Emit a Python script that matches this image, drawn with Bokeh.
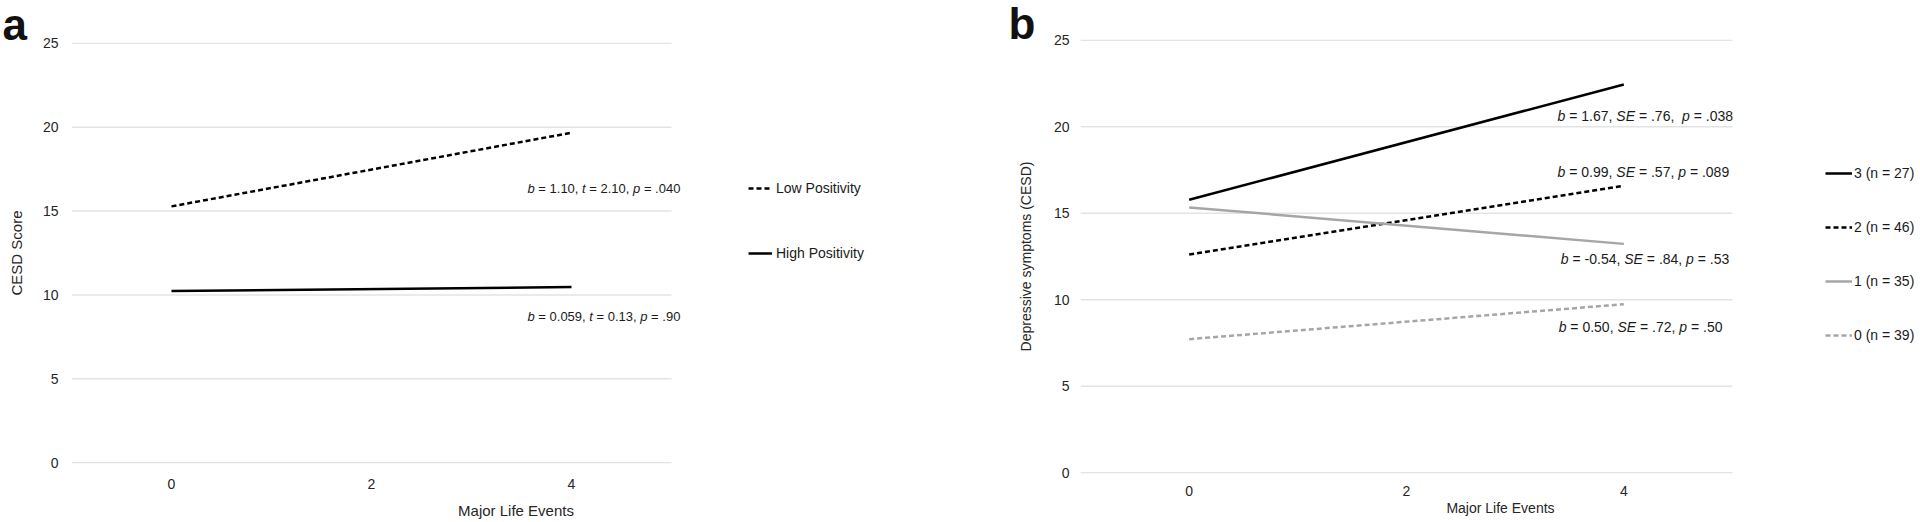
from bokeh.plotting import figure
from bokeh.models import Range1d, FixedTicker, Label, Legend, LegendItem
from bokeh.layouts import row
from bokeh.embed import file_html
from bokeh.resources import INLINE

# ---------------- data ----------------
events = [0, 4]
x_ticks = [0, 2, 4]
y_ticks = [0, 5, 10, 15, 20, 25]

# panel a
low_positivity = [15.28, 19.67]
high_positivity = [10.23, 10.47]
a_names = ["Low Positivity", "High Positivity"]
a_stats = [
    [("b", True), (" = 1.10, ", False), ("t", True), (" = 2.10, ", False), ("p", True), (" = .040", False)],
    [("b", True), (" = 0.059, ", False), ("t", True), (" = 0.13, ", False), ("p", True), (" = .90", False)],
]

# panel b
group3 = [15.78, 22.45]
group2 = [12.62, 16.59]
group1 = [15.34, 13.23]
group0 = [7.72, 9.74]
b_names = ["3 (n = 27)", "2 (n = 46)", "1 (n = 35)", "0 (n = 39)"]
b_stats = [
    [("b", True), (" = 1.67, ", False), ("SE", True), (" = .76,  ", False), ("p", True), (" = .038", False)],
    [("b", True), (" = 0.99, ", False), ("SE", True), (" = .57, ", False), ("p", True), (" = .089", False)],
    [("b", True), (" = -0.54, ", False), ("SE", True), (" = .84, ", False), ("p", True), (" = .53", False)],
    [("b", True), (" = 0.50, ", False), ("SE", True), (" = .72, ", False), ("p", True), (" = .50", False)],
]

# annotation anchor positions (data coords of the text start / middle)
a_stat_pos = [(3.56, 16.33), (3.56, 8.73)]
b_stat_pos = [(3.39, 20.62), (3.39, 17.40), (3.42, 12.33), (3.40, 8.41)]

FONT = "Liberation Sans"
BLACK = "#000000"
GRAY = "#a6a6a6"
DASH = "5 3"
TXT = "#1a1a1a"
X_MIN, X_MAX = -1, 5      # extent of the plotted area (gridlines)
Y_MIN, Y_MAX = 0, 25

# Arial / Liberation Sans advance widths (per 1000 em)
W = {c: 556 for c in "0123456789"}
W.update({" ": 278, ".": 278, ",": 278, "=": 584, "-": 333, "b": 556, "t": 278,
          "p": 556, "S": 667, "E": 667})


def text_width(s, size):
    return sum(W.get(ch, 556) for ch in s) * size / 1000.0


def add_rich_label(p, x, y, parts, size):
    off = 0.0
    for txt, ital in parts:
        core = txt.strip(" ")
        lead = len(txt) - len(txt.lstrip(" "))
        trail = len(txt) - len(txt.rstrip(" "))
        off += text_width(" " * lead, size)
        p.add_layout(Label(x=x, y=y, x_offset=off, text=core, text_font=FONT,
                           text_font_size=f"{size}px",
                           text_font_style="italic" if ital else "normal",
                           text_color=TXT, text_baseline="middle", text_align="left"))
        off += text_width(core, size) + text_width(" " * trail, size)


def base_fig(width, height, bl, bt, bb, x_end, ylabel, tick_size, lab_size,
             y_std, ylab_std, x_std, xlab_std, letter, letter_offset, letter_standoff):
    p = figure(width=width, height=height, output_backend="svg", toolbar_location=None,
               x_range=Range1d(X_MIN, x_end), y_range=Range1d(Y_MIN - 0.05, Y_MAX + 0.05),
               min_border_left=bl, min_border_right=0, min_border_top=bt, min_border_bottom=bb,
               title=letter, frame_align=False)
    p.title.align = "left"
    p.title.vertical_align = "middle"
    p.title.offset = letter_offset
    p.title.standoff = letter_standoff
    p.title.text_font = FONT
    p.title.text_font_size = "44px"
    p.title.text_font_style = "bold"
    p.title.text_color = "#111111"
    p.outline_line_color = None
    p.background_fill_color = "white"
    p.border_fill_color = "white"
    p.grid.grid_line_color = None
    # horizontal gridlines spanning only the plotting area
    p.segment(x0=[X_MIN] * len(y_ticks), x1=[X_MAX] * len(y_ticks), y0=y_ticks, y1=y_ticks,
              line_color="#e3e3e3", line_width=1.5, level="underlay")
    p.xaxis.ticker = FixedTicker(ticks=x_ticks)
    p.yaxis.ticker = FixedTicker(ticks=y_ticks)
    for ax in (p.xaxis, p.yaxis):
        ax.axis_line_color = None
        ax.major_tick_line_color = None
        ax.minor_tick_line_color = None
        ax.major_tick_out = 0
        ax.major_tick_in = 0
        ax.minor_tick_out = 0
        ax.major_label_text_font = FONT
        ax.major_label_text_font_size = f"{tick_size}px"
        ax.major_label_text_color = "#262626"
        ax.axis_label_text_font = FONT
        ax.axis_label_text_font_size = f"{lab_size}px"
        ax.axis_label_text_font_style = "normal"
        ax.axis_label_text_color = "#262626"
    p.xaxis.axis_label = "Major Life Events"
    p.yaxis.axis_label = ylabel
    p.yaxis.major_label_standoff = y_std
    p.yaxis.axis_label_standoff = ylab_std
    p.xaxis.major_label_standoff = x_std
    p.xaxis.axis_label_standoff = xlab_std
    return p


def legend(items, loc, gw, std, spacing, size):
    return Legend(items=items, location=loc, orientation="vertical",
                  glyph_width=gw, glyph_height=20, label_height=20, label_standoff=std,
                  spacing=spacing, padding=0, margin=0, border_line_color=None,
                  background_fill_alpha=0, label_text_font=FONT,
                  label_text_font_size=f"{size}px", label_text_color=TXT,
                  label_text_baseline="middle")


# ---------------- panel a ----------------
# canvas 0..960; frame x 71..960 (data -1..5 spans 71..671), y 42..463
pa = base_fig(960, 522, 71, 42, 59, 7.89, "CESD Score", 14, 15, 13, 15, 15, 10,
              "a", -69, -15)
ra1 = pa.line(events, low_positivity, line_color=BLACK, line_width=2.5, line_dash=DASH)
ra2 = pa.line(events, high_positivity, line_color=BLACK, line_width=2.5)
for (x, y), parts in zip(a_stat_pos, a_stats):
    add_rich_label(pa, x, y, parts, 13)
leg_a = legend([LegendItem(label=a_names[0], renderers=[ra1]),
                LegendItem(label=a_names[1], renderers=[ra2])],
               (677, 200), 24, 4, 45, 14)
pa.add_layout(leg_a, "center")

# ---------------- panel b ----------------
# canvas 960..1920; frame x 1080..1920 (data -1..5 spans 1080..1732), y 39..473
pb = base_fig(960, 522, 120, 39, 49, 6.73, "Depressive symptoms (CESD)", 14, 14, 11, 17, 12, 1,
              "b", -72, -19)
rb3 = pb.line(events, group3, line_color=BLACK, line_width=2.5)
rb2 = pb.line(events, group2, line_color=BLACK, line_width=2.5, line_dash=DASH)
rb1 = pb.line(events, group1, line_color=GRAY, line_width=2.5)
rb0 = pb.line(events, group0, line_color=GRAY, line_width=2.5, line_dash=DASH)
for (x, y), parts in zip(b_stat_pos, b_stats):
    add_rich_label(pb, x, y, parts, 14)
leg_b = legend([LegendItem(label=n, renderers=[r]) for n, r in
                zip(b_names, [rb3, rb2, rb1, rb0])],
               (745, 128), 27, 2, 34, 14)
pb.add_layout(leg_b, "center")

layout = row(pa, pb)
open("out.html", "w").write(file_html(layout, INLINE))
